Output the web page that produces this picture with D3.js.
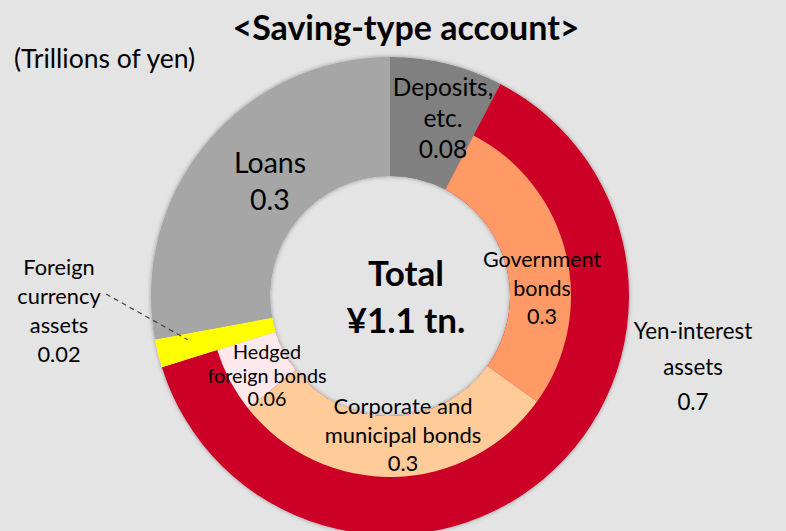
<!DOCTYPE html>
<html>
<head>
<meta charset="utf-8">
<script src="https://cdn.jsdelivr.net/npm/d3@7"></script>
<style>
  html, body { margin: 0; padding: 0; background: #e4e4e4; }
  svg { display: block; }
  text { font-family: Lato, "Open Sans", sans-serif; fill: #000; }
</style>
</head>
<body>
<svg id="chart" width="786" height="531"></svg>
<script>
// Outer ring: breakdown of the account by asset class (trillions of yen)
const outerCategories = ["Deposits, etc.", "Yen-interest assets", "Foreign currency assets", "Loans"];
const outerValues = [0.084, 0.688, 0.021, 0.307];

// Inner ring: the yen-interest assets split by bond type; other classes repeat the outer ring
const innerCategories = ["Deposits, etc.", "Government bonds", "Corporate and municipal bonds",
                         "Hedged foreign bonds", "Foreign currency assets", "Loans"];
const innerValues = [0.084, 0.300, 0.324, 0.064, 0.021, 0.307];

const colors = {
  "Deposits, etc.": "#808080",
  "Yen-interest assets": "#cc0025",
  "Foreign currency assets": "#ffff00",
  "Loans": "#a6a6a6",
  "Government bonds": "#ff9966",
  "Corporate and municipal bonds": "#ffcc99",
  "Hedged foreign bonds": "#fde8ec"
};

const W = 786, H = 531;
const cx = 390, cy = 296;
const rHole = 120, rMid = 181, rOuter = 239;

const svg = d3.select("#chart");
const fmt = v => v < 0.1 ? d3.format(".2f")(v) : d3.format(".1f")(v);

// soft shadow round the ring edges
const defs = svg.append("defs");
const f = defs.append("filter").attr("id", "soft").attr("x", "-10%").attr("y", "-10%")
  .attr("width", "120%").attr("height", "120%");
f.append("feDropShadow").attr("dx", 0).attr("dy", 0).attr("stdDeviation", 2.2)
  .attr("flood-color", "#000").attr("flood-opacity", 0.35);

const pie = d3.pie().sort(null).value(d => d.value);
const outerData = pie(outerCategories.map((c, i) => ({ cat: c, value: outerValues[i] })));
const innerData = pie(innerCategories.map((c, i) => ({ cat: c, value: innerValues[i] })));

const g = svg.append("g").attr("transform", `translate(${cx},${cy})`);
const ring = g.append("g").attr("filter", "url(#soft)");

const arcOuter = d3.arc().innerRadius(rHole).outerRadius(rOuter);
const arcInner = d3.arc().innerRadius(rHole).outerRadius(rMid);

ring.selectAll("path.outer").data(outerData).join("path")
  .attr("class", "outer")
  .attr("d", arcOuter)
  .attr("fill", d => colors[d.data.cat]);

ring.selectAll("path.inner").data(innerData).join("path")
  .attr("class", "inner")
  .attr("d", arcInner)
  .attr("fill", d => colors[d.data.cat]);

// multi-line centred label
function label(x, y, lines, size, lh, weight) {
  const t = svg.append("text")
    .attr("text-anchor", "middle")
    .attr("font-size", size)
    .attr("font-weight", weight || "normal");
  const n = lines.length;
  lines.forEach((s, i) => {
    t.append("tspan").attr("x", x)
      .attr("y", y + (i - (n - 1) / 2) * lh)
      .attr("dy", "0.35em")
      .text(s);
  });
  return t;
}

const oV = Object.fromEntries(outerCategories.map((c, i) => [c, outerValues[i]]));
const iV = Object.fromEntries(innerCategories.map((c, i) => [c, innerValues[i]]));
const total = d3.sum(outerValues);

// title and unit
label(406, 28, ["<Saving-type account>"], 34, 0, "bold");
svg.append("text").attr("x", 14).attr("y", 59).attr("dy", "0.35em")
  .attr("font-size", 26.5).text("(Trillions of yen)");

// centre total
label(cx + 16, cy + 1, ["Total", "¥" + d3.format(".1f")(total) + " tn."], 35, 47, "bold");

// segment labels
label(cx + 53, cy - 178, ["Deposits,", "etc.", fmt(oV["Deposits, etc."])], 24.5, 31);
label(cx - 120, cy - 114, ["Loans", fmt(oV["Loans"])], 28.5, 37);
label(cx + 152, cy - 8, ["Government", "bonds", fmt(iV["Government bonds"])], 21.5, 28.5);
label(cx + 13, cy + 139, ["Corporate and", "municipal bonds", fmt(iV["Corporate and municipal bonds"])], 22, 28.5);
label(cx - 123, cy + 80, ["Hedged", "foreign bonds", fmt(iV["Hedged foreign bonds"])], 19.8, 23.5);
label(cx + 303, cy + 71, ["Yen-interest", "assets", fmt(oV["Yen-interest assets"])], 22.3, 35.5);
label(59, cy + 15, ["Foreign", "currency", "assets", fmt(oV["Foreign currency assets"])], 21.8, 29);

// leader line to the foreign currency slice
const fx = outerData.find(d => d.data.cat === "Foreign currency assets");
const midA = (fx.startAngle + fx.endAngle) / 2 + 0.03;
const rEnd = 207;
svg.append("line")
  .attr("x1", 106).attr("y1", 294)
  .attr("x2", cx + rEnd * Math.sin(midA)).attr("y2", cy - rEnd * Math.cos(midA))
  .attr("stroke", "#404040").attr("stroke-width", 1.2)
  .attr("stroke-dasharray", "5,4");
</script>
</body>
</html>
